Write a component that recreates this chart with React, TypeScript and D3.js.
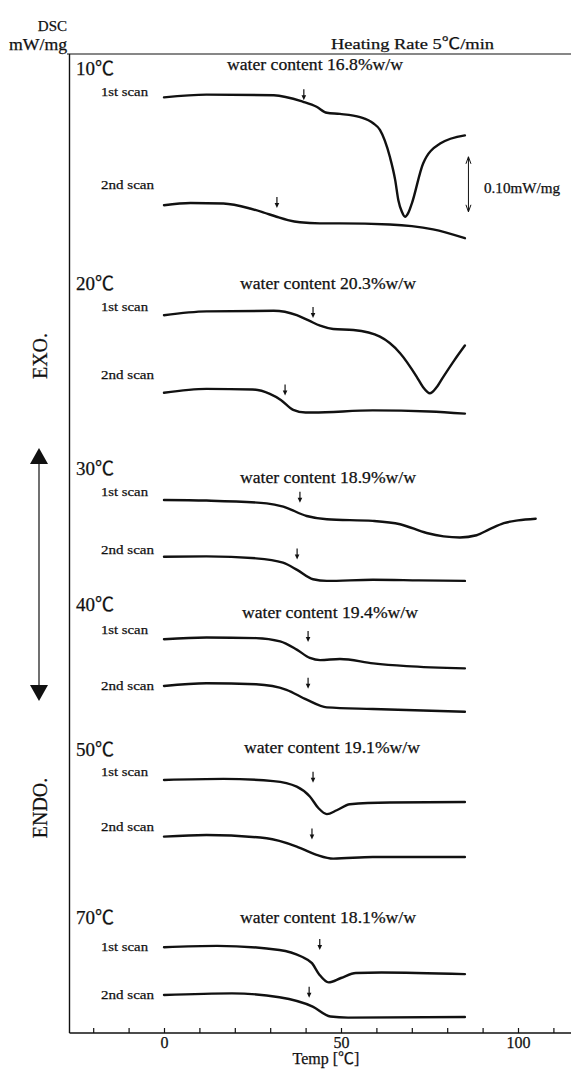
import { useEffect, useRef } from 'react';
import * as d3 from 'd3';

// storage temperature of each sample and its water content (%w/w)
const panelLabels = ['10℃', '20℃', '30℃', '40℃', '50℃', '70℃'];
const waterContents = ['16.8', '20.3', '18.9', '19.4', '19.1', '18.1'];

// baseline level of every trace (mW/mg, stacked offsets)
const offsets1st = [1.701, 1.305, 0.969, 0.716, 0.46, 0.156];
const offsets2nd = [1.505, 1.164, 0.866, 0.631, 0.357, 0.069];

// onset markers (℃)
const arrows1st = [39.5, 42.1, 38.4, 40.7, 42.1, 44];
const arrows2nd = [31.9, 34.2, 37.6, 40.7, 41.8, 41];

// DSC traces: temperature (℃) and heat flow relative to the start (mW/mg)
const t10a = [0, 12, 31, 39.3, 43.1, 46, 49.7, 55.4, 59.1, 61, 63.8, 65.3, 66.2, 67.2, 68.1, 69, 70, 73.2, 78, 85];
const d10a = [0, 0.005, 0.004, -0.008, -0.017, -0.028, -0.03, -0.036, -0.047, -0.059, -0.108, -0.15, -0.187, -0.208, -0.217, -0.21, -0.193, -0.12, -0.084, -0.069];
const t10b = [0, 7.5, 16.8, 24.3, 28, 31.8, 35, 38.4, 44, 49.7, 63.8, 70, 76, 85];
const d10b = [0, 0.004, 0.003, -0.006, -0.013, -0.021, -0.027, -0.031, -0.033, -0.033, -0.035, -0.038, -0.044, -0.06];

const t20a = [0, 12, 31, 37.5, 41, 44.1, 47.8, 53.5, 61, 66.7, 71.4, 73.2, 75.1, 77, 78.9, 82, 85];
const d20a = [0, 0.007, 0.008, 0, -0.01, -0.019, -0.025, -0.027, -0.039, -0.069, -0.112, -0.131, -0.142, -0.131, -0.112, -0.082, -0.055];
const t20b = [0, 12, 25, 29.9, 33, 36.5, 40, 42.1, 59, 75, 85];
const d20b = [0, 0.007, 0.006, -0.002, -0.013, -0.031, -0.036, -0.036, -0.032, -0.034, -0.038];

const t30a = [0, 12, 29, 33.7, 40.3, 46, 59, 66.7, 74.2, 79, 83.6, 88.3, 92, 96, 100, 105];
const d30a = [0, -0.001, -0.006, -0.012, -0.029, -0.035, -0.038, -0.044, -0.06, -0.066, -0.068, -0.064, -0.053, -0.042, -0.037, -0.034];
const t30b = [0, 12, 26, 33.6, 37.6, 42.1, 46, 59, 72, 85];
const d30b = [0, 0.0005, -0.003, -0.011, -0.024, -0.041, -0.044, -0.042, -0.043, -0.044];

const t40a = [0, 12, 26, 32.8, 37.5, 41.2, 44.1, 49.7, 59.1, 68.5, 85];
const d40a = [0, 0.003, 0.002, -0.004, -0.019, -0.034, -0.038, -0.036, -0.044, -0.049, -0.053];
const t40b = [0, 12, 26, 34.6, 40.3, 46, 59, 85];
const d40b = [0, 0.005, 0.003, -0.007, -0.025, -0.039, -0.042, -0.047];

const t50a = [0, 16.8, 30.9, 37.5, 41.2, 43.6, 46, 48.8, 52.5, 63.8, 85];
const d50a = [0, 0.002, -0.002, -0.012, -0.03, -0.051, -0.062, -0.055, -0.044, -0.041, -0.04];
const t50b = [0, 12, 29, 37.5, 43.1, 47.8, 59, 85];
const d50b = [0, 0.003, -0.003, -0.018, -0.033, -0.04, -0.037, -0.037];

const t70a = [0, 15, 32.6, 38.8, 41.8, 43.9, 46.5, 50, 54.2, 61.4, 85];
const d70a = [0, 0.0024, -0.005, -0.017, -0.029, -0.05, -0.064, -0.056, -0.047, -0.046, -0.049];
const t70b = [0, 19.2, 32.6, 42, 47, 52, 85];
const d70b = [0, 0.003, -0.004, -0.021, -0.039, -0.041, -0.04];

const traces1st = [[t10a, d10a], [t20a, d20a], [t30a, d30a], [t40a, d40a], [t50a, d50a], [t70a, d70a]];
const traces2nd = [[t10b, d10b], [t20b, d20b], [t30b, d30b], [t40b, d40b], [t50b, d50b], [t70b, d70b]];

// x axis
const xTicks = [-20, -10, 0, 10, 20, 30, 40, 50, 60, 70, 80, 90, 100, 110];
const xTickLabels = [0, 50, 100];

// 0.10 mW/mg scale bar
const scaleBarTemp = 86;
const scaleBarTop = 1.593;
const scaleBarSize = 0.1;

const FONT = "'Liberation Serif', 'Noto Sans CJK JP', serif";
const INK = '#111';

// text layout per panel (px)
const panelLabelY = [75, 290, 475, 611, 756, 924];
const waterY = [70, 289, 483, 618, 753, 923];
const waterX = [315, 328, 328, 330, 332, 328];
const scan1Y = [96, 311, 496, 634, 776, 951];
const scan2Y = [189, 379, 554, 690, 831, 999];

const App = () => {
  const axisRef = useRef<SVGGElement>(null);

  const x = d3.scaleLinear().domain([0, 100]).range([164, 518]);
  const y = d3.scaleLinear().domain([0, 1.789]).range([1033, 49]);

  const line = d3
    .line<[number, number]>()
    .x((d) => x(d[0]))
    .y((d) => y(d[1]))
    .curve(d3.curveMonotoneX);

  const toPath = (t: number[], v: number[], off: number) =>
    line(t.map((tt, i) => [tt, v[i] + off] as [number, number])) || '';

  useEffect(() => {
    const g = d3.select(axisRef.current);
    g.selectAll('*').remove();
    g.call(
      d3
        .axisBottom(x)
        .tickValues(xTicks)
        .tickSizeInner(-5)
        .tickSizeOuter(0)
        .tickPadding(4)
        .tickFormat((d) => (xTickLabels.includes(d as number) ? String(d) : ''))
    );
    g.select('.domain').remove();
    g.selectAll('line').attr('stroke', INK).attr('stroke-width', 1.2);
    g.selectAll('text')
      .attr('font-family', FONT)
      .attr('font-size', 16)
      .attr('fill', INK)
      .attr('stroke', INK)
      .attr('stroke-width', 0.25);
  }, []);

  const downArrow = (t: number, level: number, key: string) => {
    const ax = x(t);
    const ay = y(level - 0.005);
    return (
      <g key={key}>
        <line x1={ax} x2={ax} y1={ay - 11} y2={ay - 3} stroke={INK} strokeWidth={1.2} />
        <path d={`M${ax - 2.3},${ay - 5} L${ax + 2.3},${ay - 5} L${ax},${ay} Z`} fill={INK} />
      </g>
    );
  };

  const sbx = x(scaleBarTemp);
  const sbTop = y(scaleBarTop);
  const sbBot = y(scaleBarTop - scaleBarSize);

  const txt = { fill: INK, stroke: INK, strokeWidth: 0.25 };

  return (
    <svg
      width={571}
      height={1069}
      style={{ position: 'absolute', left: 0, top: 0, background: '#fff' }}
      fontFamily={FONT}
    >
      {/* frame */}
      <line x1={67} x2={571} y1={54} y2={54} stroke={INK} strokeWidth={1.2} />
      <line x1={69.5} x2={69.5} y1={54} y2={1033} stroke={INK} strokeWidth={1.4} />
      <line x1={69.5} x2={571} y1={1033} y2={1033} stroke={INK} strokeWidth={1.6} />
      <g ref={axisRef} transform="translate(0,1033)" />

      {/* header texts */}
      <text x={67} y={31} fontSize={15} textAnchor="end" {...txt}>DSC</text>
      <text x={67} y={50} fontSize={16} textAnchor="end" textLength={58} lengthAdjust="spacingAndGlyphs" {...txt}>mW/mg</text>
      <text x={331} y={49} fontSize={15.5} textLength={163} lengthAdjust="spacingAndGlyphs" {...txt}>Heating Rate 5℃/min</text>
      <text x={326} y={1064} fontSize={16} textAnchor="middle" {...txt}>Temp [℃]</text>

      {/* EXO / ENDO indicator */}
      <text transform="translate(47,356) rotate(-90)" fontSize={20} textAnchor="middle" {...txt}>EXO.</text>
      <text transform="translate(47,808) rotate(-90)" fontSize={20} textAnchor="middle" {...txt}>ENDO.</text>
      <line x1={39} x2={39} y1={462} y2={686} stroke={INK} strokeWidth={1.2} />
      <path d="M39,448 L48,464 L30,464 Z" fill={INK} />
      <path d="M39,701 L48,685 L30,685 Z" fill={INK} />

      {/* scale bar */}
      <line x1={sbx} x2={sbx} y1={sbTop} y2={sbBot} stroke={INK} strokeWidth={1} />
      <path d={`M${sbx - 2.5},${sbTop + 7} L${sbx},${sbTop} L${sbx + 2.5},${sbTop + 7}`} fill="none" stroke={INK} strokeWidth={1} />
      <path d={`M${sbx - 2.5},${sbBot - 7} L${sbx},${sbBot} L${sbx + 2.5},${sbBot - 7}`} fill="none" stroke={INK} strokeWidth={1} />
      <text x={484} y={193} fontSize={14} textLength={76} lengthAdjust="spacingAndGlyphs" {...txt}>0.10mW/mg</text>

      {panelLabels.map((lab, i) => (
        <g key={lab}>
          <text x={76} y={panelLabelY[i]} fontSize={19} {...txt}>{lab}</text>
          <text x={waterX[i]} y={waterY[i]} fontSize={16.5} textAnchor="middle" textLength={176} lengthAdjust="spacingAndGlyphs" {...txt}>
            {`water content ${waterContents[i]}%w/w`}
          </text>
          <text x={101} y={scan1Y[i]} fontSize={13.5} textLength={47} lengthAdjust="spacingAndGlyphs" {...txt}>1st scan</text>
          <text x={101} y={scan2Y[i]} fontSize={13.5} textLength={53} lengthAdjust="spacingAndGlyphs" {...txt}>2nd scan</text>
          <path
            d={toPath(traces1st[i][0], traces1st[i][1], offsets1st[i])}
            fill="none"
            stroke={INK}
            strokeWidth={2.4}
            strokeLinejoin="round"
            strokeLinecap="round"
          />
          <path
            d={toPath(traces2nd[i][0], traces2nd[i][1], offsets2nd[i])}
            fill="none"
            stroke={INK}
            strokeWidth={2.4}
            strokeLinejoin="round"
            strokeLinecap="round"
          />
          {downArrow(arrows1st[i], offsets1st[i], `a1-${i}`)}
          {downArrow(arrows2nd[i], offsets2nd[i], `a2-${i}`)}
        </g>
      ))}
    </svg>
  );
};

export default App;
